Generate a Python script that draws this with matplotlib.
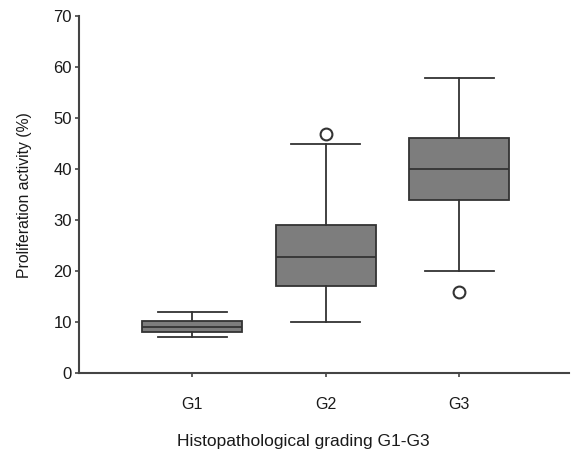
import matplotlib
matplotlib.use("Agg")
import matplotlib.pyplot as plt

# Boxplot-Kennwerte
gruppen = ["G1", "G2", "G3"]
median = [9.0, 22.7, 40.0]
q1 = [8.0, 17.0, 34.0]
q3 = [10.3, 29.1, 46.2]
whisker_unten = [7.0, 10.0, 20.0]
whisker_oben = [12.0, 45.0, 58.0]
ausreisser = [[], [47.0], [16.0]]

plt.rcParams['font.family'] = ['Liberation Sans', 'DejaVu Sans']

stats = []
for i, name in enumerate(gruppen):
    stats.append({
        'label': name,
        'med': median[i],
        'q1': q1[i],
        'q3': q3[i],
        'whislo': whisker_unten[i],
        'whishi': whisker_oben[i],
        'fliers': ausreisser[i],
    })

linie = '#333333'
fig = plt.figure(figsize=(5.71, 4.55), dpi=100)
ax = fig.add_axes([0.138, 0.180, 0.858, 0.784])

ax.bxp(stats, positions=[1, 2, 3], widths=0.75, patch_artist=True,
       boxprops=dict(facecolor='#7d7d7d', edgecolor=linie, linewidth=1.3),
       medianprops=dict(color=linie, linewidth=1.3),
       whiskerprops=dict(color=linie, linewidth=1.3),
       capprops=dict(color=linie, linewidth=1.3),
       capwidths=0.52,
       flierprops=dict(marker='o', markerfacecolor='none', markeredgecolor=linie,
                       markersize=8.5, markeredgewidth=1.5))

ax.set_xlim(0.15, 3.82)
ax.set_ylim(0, 70)
ax.set_yticks(range(0, 71, 10))
ax.set_xticks([1, 2, 3])
ax.set_xticklabels(gruppen)

for s in ['top', 'right']:
    ax.spines[s].set_visible(False)
for s in ['left', 'bottom']:
    ax.spines[s].set_color('#444444')
    ax.spines[s].set_linewidth(1.5)

ax.tick_params(axis='y', length=3, width=1.2, color='#444444', pad=2,
               labelsize=12, labelcolor='#1a1a1a')
ax.tick_params(axis='x', length=3, width=1.2, color='#444444', pad=14,
               labelsize=11.5, labelcolor='#1a1a1a')

ax.set_xlabel('Histopathological grading G1-G3', fontsize=12.5, color='#1a1a1a')
ax.xaxis.set_label_coords(0.459, -0.172)
ax.set_ylabel('Proliferation activity (%)', fontsize=11.3, color='#1a1a1a',
              labelpad=15)

fig.savefig('out.png', dpi=100)
